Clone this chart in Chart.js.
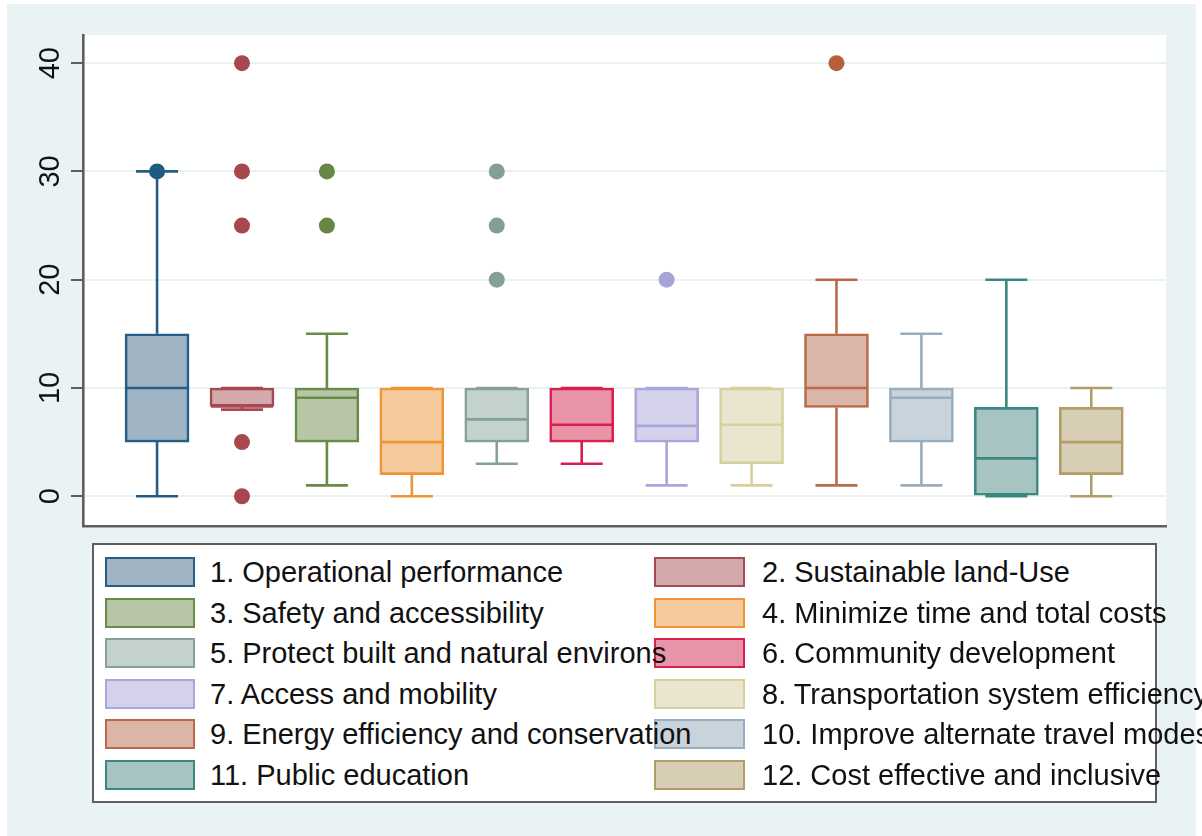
<!DOCTYPE html>
<html>
<head>
<meta charset="utf-8">
<script src="https://cdn.jsdelivr.net/npm/chart.js@4.4.0/dist/chart.umd.min.js"></script>
<style>
  html, body { margin: 0; padding: 0; background: #ffffff; overflow: hidden; }
  #wrap { position: relative; width: 1202px; height: 836px; overflow: hidden; }
  #chart { position: absolute; left: 0; top: 0; }
  #legend { position: absolute; left: 92px; top: 543px; width: 1065px; height: 260px;
            box-sizing: border-box; border: 2.5px solid #5e5e5e; background: #ffffff; }
  .sw { position: absolute; box-sizing: border-box; border: 2.5px solid #000; height: 30px; }
  .lt { position: absolute; white-space: nowrap; font-family: "Liberation Sans", Arial, Helvetica, sans-serif;
        font-size: 29px; line-height: 32px; height: 32px; color: #111111; }
</style>
</head>
<body>
<div id="wrap">
  <canvas id="chart" width="1202" height="836"></canvas>
  <div id="legendLayer"></div>
</div>
<script>
// ---- data ----
const categories = [
  "1. Operational performance",
  "2. Sustainable land-Use",
  "3. Safety and accessibility",
  "4. Minimize time and total costs",
  "5. Protect built and natural environs",
  "6. Community development",
  "7. Access and mobility",
  "8. Transportation system efficiency",
  "9. Energy efficiency and conservation",
  "10. Improve alternate travel modes",
  "11. Public education",
  "12. Cost effective and inclusive"
];
const q1          = [5, 8.3, 5, 2, 5, 5, 5, 3, 8.2, 5, 0, 2];
const median      = [10, 8.3, 9.1, 5, 7.1, 6.6, 6.5, 6.6, 10, 9.1, 3.5, 5];
const q3          = [15, 10, 10, 10, 10, 10, 10, 10, 15, 10, 8.2, 8.2];
const whiskerLow  = [0, 8, 1, 0, 3, 3, 1, 1, 1, 1, 0, 0];
const whiskerHigh = [30, 10, 15, 10, 10, 10, 10, 10, 20, 15, 20, 10];
const outlierCat  = [1, 2, 2, 2, 2, 2, 3, 3, 5, 5, 5, 7, 9];
const outlierVal  = [30, 40, 30, 25, 5, 0, 30, 25, 30, 25, 20, 20, 40];
const yTickValues = [0, 10, 20, 30, 40];

const strokeColors = ["#255d87", "#a84850", "#6a8a48", "#ef9535", "#85a198", "#d8204f",
                      "#aaa6dc", "#d8d09c", "#bb6a49", "#98adbf", "#3d8782", "#b09d68"];
const fillColors   = ["#9fb3c2", "#d4a9ab", "#b8c6a8", "#f4c99b", "#c3d2cd", "#e893a7",
                      "#d4d2ea", "#e9e5cf", "#dab6a8", "#c8d3dc", "#a7c4c2", "#d8cdb5"];
const dotColors    = ["#1f5a82", "#a8474e", "#668844", "#ef9535", "#83a095", "#d8204f",
                      "#a7a3d8", "#d8d09c", "#b5623c", "#98adbf", "#3d8782", "#b09d68"];

// ---- plugins ----
const bgPlugin = {
  id: 'bg',
  beforeDraw(chart) {
    const ctx = chart.ctx, a = chart.chartArea;
    ctx.save();
    ctx.fillStyle = '#ffffff';
    ctx.fillRect(0, 0, chart.width, chart.height);
    ctx.fillStyle = '#eaf3f3';
    ctx.fillRect(7, 4, 1189, 832);
    ctx.fillStyle = '#ffffff';
    ctx.fillRect(a.left, a.top, a.right - a.left, a.bottom - a.top);
    ctx.restore();
  }
};

const boxPlugin = {
  id: 'boxparts',
  beforeDatasetsDraw(chart) {
    const ctx = chart.ctx, xs = chart.scales.x, ys = chart.scales.y;
    ctx.save();
    ctx.lineWidth = 2.6;
    ctx.lineCap = 'butt';
    categories.forEach((c, i) => {
      const x = xs.getPixelForValue(i + 1);
      ctx.strokeStyle = strokeColors[i];
      ctx.beginPath();
      ctx.moveTo(x, ys.getPixelForValue(whiskerLow[i]));
      ctx.lineTo(x, ys.getPixelForValue(q1[i]));
      ctx.moveTo(x, ys.getPixelForValue(q3[i]));
      ctx.lineTo(x, ys.getPixelForValue(whiskerHigh[i]));
      ctx.moveTo(x - 21, ys.getPixelForValue(whiskerLow[i]));
      ctx.lineTo(x + 21, ys.getPixelForValue(whiskerLow[i]));
      ctx.moveTo(x - 21, ys.getPixelForValue(whiskerHigh[i]));
      ctx.lineTo(x + 21, ys.getPixelForValue(whiskerHigh[i]));
      ctx.stroke();
    });
    ctx.restore();
  },
  afterDatasetDraw(chart, args) {
    if (args.index !== 0) return;
    const ctx = chart.ctx, xs = chart.scales.x, ys = chart.scales.y;
    ctx.save();
    ctx.lineWidth = 2.6;
    categories.forEach((c, i) => {
      const x = xs.getPixelForValue(i + 1);
      const y = ys.getPixelForValue(median[i]);
      ctx.strokeStyle = strokeColors[i];
      ctx.beginPath();
      ctx.moveTo(x - 31, y);
      ctx.lineTo(x + 31, y);
      ctx.stroke();
    });
    ctx.restore();
  },
  afterDraw(chart) {
    const ctx = chart.ctx, ys = chart.scales.y;
    ctx.save();
    ctx.fillStyle = '#111111';
    ctx.font = '29px "Liberation Sans", Arial, Helvetica, sans-serif';
    ctx.textAlign = 'center';
    ctx.textBaseline = 'alphabetic';
    yTickValues.forEach(v => {
      const y = ys.getPixelForValue(v);
      ctx.save();
      ctx.translate(58.5, y);
      ctx.rotate(-Math.PI / 2);
      ctx.fillText(String(v), 0, 0);
      ctx.restore();
    });
    ctx.restore();
  }
};

// ---- chart ----
const boxData = categories.map((c, i) => ({ x: i + 1, y: [q1[i], q3[i]] }));
const outlierData = outlierVal.map((v, k) => ({ x: outlierCat[k], y: v }));

new Chart(document.getElementById('chart'), {
  type: 'bar',
  data: {
    datasets: [
      {
        type: 'bar',
        data: boxData,
        backgroundColor: fillColors,
        borderColor: strokeColors,
        borderWidth: 2.6,
        borderSkipped: false,
        barThickness: 64,
        order: 2
      },
      {
        type: 'scatter',
        data: outlierData,
        pointRadius: 8,
        pointBorderWidth: 0,
        pointBackgroundColor: outlierCat.map(c => dotColors[c - 1]),
        showLine: false,
        order: 1
      }
    ]
  },
  options: {
    responsive: false,
    animation: false,
    devicePixelRatio: 1,
    layout: { padding: { top: 35, right: 36, bottom: 0, left: 0 } },
    plugins: { legend: { display: false }, tooltip: { enabled: false } },
    scales: {
      x: {
        type: 'linear',
        offset: false,
        min: 0.128,
        max: 12.88,
        ticks: { display: false },
        grid: { display: false, offset: false },
        border: { display: true, color: '#5e5e5e', width: 2.6 },
        afterFit(s) { s.height = 310; }
      },
      y: {
        type: 'linear',
        min: -2.75,
        max: 42.6,
        afterBuildTicks(s) { s.ticks = yTickValues.map(v => ({ value: v })); },
        ticks: { display: false },
        grid: { color: '#e9f1f1', lineWidth: 2, drawTicks: true, tickLength: 12, tickColor: '#5e5e5e', tickWidth: 2 },
        border: { display: true, color: '#5e5e5e', width: 2.6 },
        afterFit(s) { s.width = 83; }
      }
    }
  },
  plugins: [bgPlugin, boxPlugin]
});

// ---- legend (two columns, row-major) ----
const layer = document.getElementById('legendLayer');
const swHtml = [], txHtml = [];
categories.forEach((c, i) => {
  const col = i % 2, row = Math.floor(i / 2);
  const cy = 572 + row * 40.5;
  const swX = col === 0 ? 105 : 654;
  const swW = col === 0 ? 90 : 91;
  const txX = col === 0 ? 210 : 762;
  swHtml.push('<div class="sw" style="left:' + swX + 'px;top:' + (cy - 15) + 'px;width:' + swW +
    'px;background:' + fillColors[i] + ';border-color:' + strokeColors[i] + '"></div>');
  txHtml.push('<div class="lt" style="left:' + txX + 'px;top:' + (cy - 16) + 'px">' + c + '</div>');
});
layer.innerHTML = '<div id="legend"></div>' + swHtml.join('') + txHtml.join('');
</script>
</body>
</html>
